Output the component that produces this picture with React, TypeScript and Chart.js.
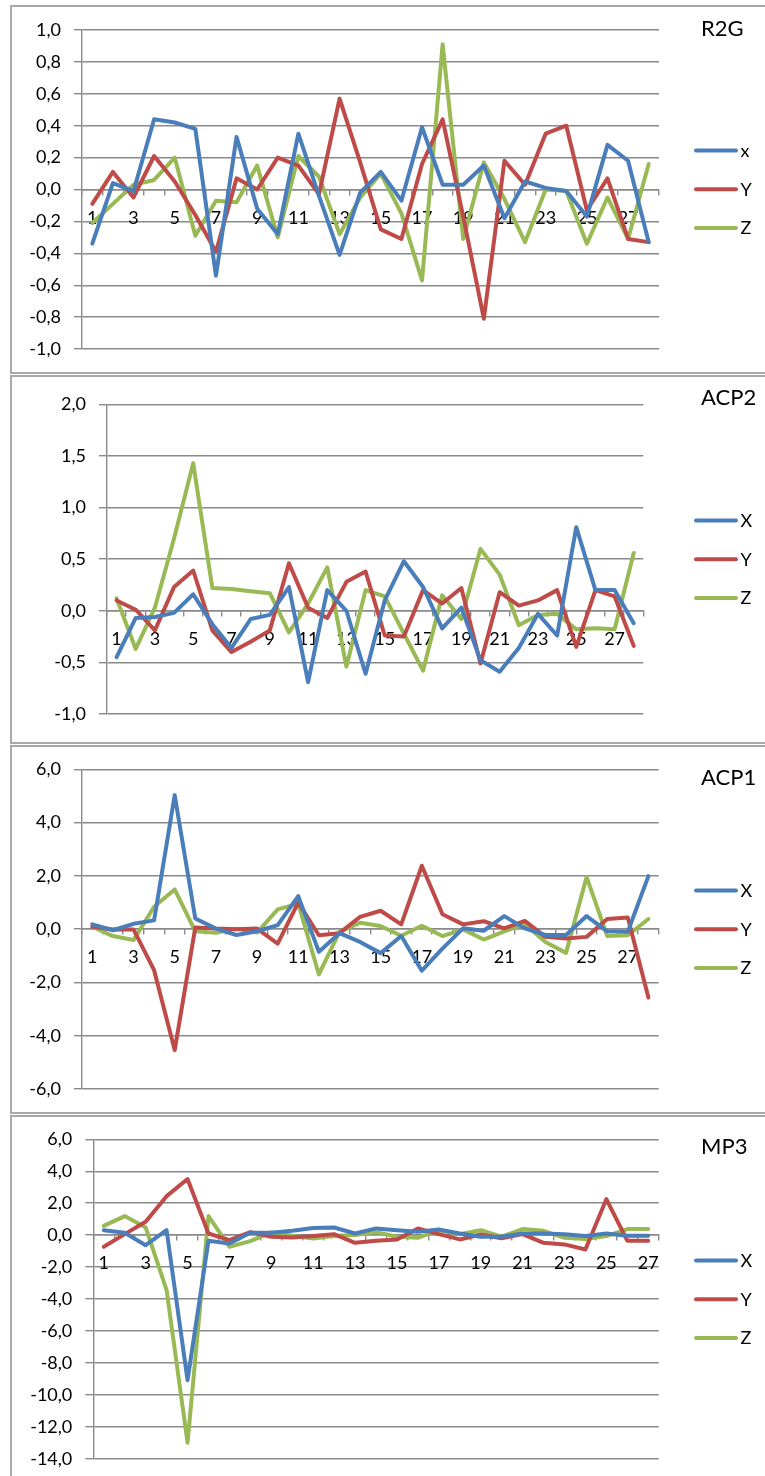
import { useEffect, useRef } from "react";
import { Chart, registerables } from "chart.js";

Chart.register(...registerables);

// ---- categories ----
const categories28 = ["1", "2", "3", "4", "5", "6", "7", "8", "9", "10", "11", "12", "13", "14", "15", "16", "17", "18", "19", "20", "21", "22", "23", "24", "25", "26", "27", "28"];
const categories27 = ["1", "2", "3", "4", "5", "6", "7", "8", "9", "10", "11", "12", "13", "14", "15", "16", "17", "18", "19", "20", "21", "22", "23", "24", "25", "26", "27"];

// ---- R2G ----
const r2gX = [-0.34, 0.04, -0.01, 0.44, 0.42, 0.38, -0.54, 0.33, -0.12, -0.28, 0.35, -0.04, -0.41, -0.02, 0.11, -0.07, 0.39, 0.03, 0.03, 0.15, -0.18, 0.05, 0.01, -0.01, -0.17, 0.28, 0.18, -0.33];
const r2gY = [-0.09, 0.11, -0.05, 0.21, 0.05, -0.16, -0.39, 0.07, 0.0, 0.2, 0.15, -0.03, 0.57, 0.17, -0.25, -0.31, 0.16, 0.44, -0.17, -0.81, 0.18, 0.03, 0.35, 0.4, -0.13, 0.07, -0.31, -0.33];
const r2gZ = [-0.21, -0.09, 0.03, 0.06, 0.2, -0.29, -0.07, -0.08, 0.15, -0.3, 0.21, 0.08, -0.28, -0.05, 0.1, -0.15, -0.57, 0.91, -0.31, 0.17, -0.06, -0.33, 0.0, -0.01, -0.34, -0.05, -0.31, 0.16];

// ---- ACP2 ----
const acp2X = [-0.45, -0.07, -0.06, -0.02, 0.16, -0.13, -0.36, -0.08, -0.04, 0.23, -0.69, 0.2, 0.0, -0.61, 0.1, 0.48, 0.23, -0.17, 0.03, -0.48, -0.59, -0.36, -0.03, -0.24, 0.81, 0.2, 0.2, -0.12];
const acp2Y = [0.1, 0.01, -0.19, 0.23, 0.39, -0.19, -0.4, -0.3, -0.19, 0.46, 0.03, -0.07, 0.28, 0.38, -0.24, -0.25, 0.2, 0.07, 0.22, -0.51, 0.18, 0.05, 0.1, 0.2, -0.35, 0.2, 0.14, -0.34];
const acp2Z = [0.12, -0.37, 0.03, 0.7, 1.43, 0.22, 0.21, 0.19, 0.17, -0.21, 0.07, 0.42, -0.54, 0.2, 0.14, -0.22, -0.58, 0.15, -0.08, 0.6, 0.35, -0.14, -0.04, -0.03, -0.18, -0.17, -0.18, 0.56];

// ---- ACP1 ----
const acp1X = [0.18, -0.04, 0.2, 0.33, 5.03, 0.4, 0.02, -0.22, -0.08, 0.15, 1.24, -0.85, -0.15, -0.48, -0.9, -0.26, -1.56, -0.73, 0.03, -0.06, 0.49, 0.03, -0.22, -0.22, 0.49, -0.08, -0.1, 1.99];
const acp1Y = [0.09, -0.01, -0.01, -1.54, -4.54, 0.06, 0.02, 0.0, 0.02, -0.54, 1.0, -0.23, -0.15, 0.46, 0.69, 0.18, 2.38, 0.56, 0.18, 0.3, 0.03, 0.31, -0.29, -0.35, -0.29, 0.38, 0.44, -2.57];
const acp1Z = [0.09, -0.26, -0.41, 0.84, 1.49, -0.08, -0.14, 0.02, -0.13, 0.74, 0.96, -1.7, -0.1, 0.24, 0.12, -0.25, 0.13, -0.26, -0.01, -0.39, -0.08, 0.19, -0.48, -0.89, 1.96, -0.26, -0.23, 0.38];

// ---- MP3 ----
const mp3X = [0.31, 0.15, -0.63, 0.31, -9.08, -0.35, -0.52, 0.15, 0.15, 0.27, 0.44, 0.48, 0.1, 0.42, 0.31, 0.21, 0.35, 0.1, -0.1, -0.1, 0.1, 0.1, 0.06, -0.06, 0.1, -0.04, -0.04];
const mp3Y = [-0.73, 0.06, 0.84, 2.44, 3.51, 0.1, -0.31, 0.19, -0.1, -0.15, -0.06, 0.06, -0.48, -0.35, -0.27, 0.42, 0.06, -0.27, 0.04, -0.2, 0.06, -0.48, -0.58, -0.9, 2.25, -0.35, -0.35];
const mp3Z = [0.58, 1.19, 0.48, -3.44, -13.0, 1.19, -0.73, -0.38, 0.17, -0.04, -0.21, -0.06, 0.0, 0.19, -0.1, -0.17, 0.31, 0.06, 0.31, -0.1, 0.38, 0.27, -0.17, -0.25, -0.06, 0.38, 0.38];

// ---- styling ----
const BLUE = "#4A7EBB";
const RED = "#BE4B48";
const GREEN = "#98B954";
const GRID = "#8a8a8a";
const FRAME = "#a9a9a9";
const FONT = "Lato, 'Noto Sans', sans-serif";
const TICK_SIZE = 18;
const PAGE_W = 765;
const PAGE_H = 1476;
const PANEL_H = 369;
const Y_AXIS_W = 70;
const LINE_W = 4;

type Series = { name: string; data: number[]; color: string };
type Panel = {
  title: string;
  top: number;
  titleY: number;
  area: { left: number; right: number; top: number; bottom: number };
  yMin: number;
  yMax: number;
  yStep: number;
  labels: string[];
  series: Series[];
};

const panels: Panel[] = [
  {
    title: "R2G",
    top: 5,
    titleY: 28.8,
    area: { left: 82, right: 659, top: 30, bottom: 349 },
    yMin: -1,
    yMax: 1,
    yStep: 0.2,
    labels: categories28,
    series: [
      { name: "x", data: r2gX, color: BLUE },
      { name: "Y", data: r2gY, color: RED },
      { name: "Z", data: r2gZ, color: GREEN },
    ],
  },
  {
    title: "ACP2",
    top: 375,
    titleY: 398.3,
    area: { left: 107, right: 643.3, top: 404.3, bottom: 714 },
    yMin: -1,
    yMax: 2,
    yStep: 0.5,
    labels: categories28,
    series: [
      { name: "X", data: acp2X, color: BLUE },
      { name: "Y", data: acp2Y, color: RED },
      { name: "Z", data: acp2Z, color: GREEN },
    ],
  },
  {
    title: "ACP1",
    top: 745,
    titleY: 777.5,
    area: { left: 82, right: 658.7, top: 769.3, bottom: 1089 },
    yMin: -6,
    yMax: 6,
    yStep: 2,
    labels: categories28,
    series: [
      { name: "X", data: acp1X, color: BLUE },
      { name: "Y", data: acp1Y, color: RED },
      { name: "Z", data: acp1Z, color: GREEN },
    ],
  },
  {
    title: "MP3",
    top: 1115,
    titleY: 1146.8,
    area: { left: 93.3, right: 658.7, top: 1139.3, bottom: 1458.7 },
    yMin: -14,
    yMax: 6,
    yStep: 2,
    labels: categories27,
    series: [
      { name: "X", data: mp3X, color: BLUE },
      { name: "Y", data: mp3Y, color: RED },
      { name: "Z", data: mp3Z, color: GREEN },
    ],
  },
];

// Title at the top right and a line-sample legend under it.
const panelText = {
  id: "panelText",
  afterDraw(chart: any, _args: any, opts: any) {
    const ctx = chart.ctx as CanvasRenderingContext2D;
    ctx.save();
    ctx.fillStyle = "#000";
    ctx.textAlign = "left";
    ctx.textBaseline = "middle";
    ctx.font = `22px ${FONT}`;
    ctx.fillText(opts.title, 701, opts.titleY);
    chart.data.datasets.forEach((ds: any, i: number) => {
      const y = 145.5 + i * 38.8;
      ctx.strokeStyle = ds.borderColor;
      ctx.lineWidth = LINE_W;
      ctx.lineCap = "round";
      ctx.beginPath();
      ctx.moveTo(696, y);
      ctx.lineTo(736, y);
      ctx.stroke();
      ctx.font = `${TICK_SIZE}px ${FONT}`;
      ctx.fillText(ds.label, 740.5, y + 0.5);
    });
    ctx.restore();
  },
};

function PanelChart({ panel }: { panel: Panel }) {
  const ref = useRef<HTMLCanvasElement>(null);

  useEffect(() => {
    const canvas = ref.current;
    if (!canvas) return;
    const a = panel.area;
    const T = panel.top;
    const chart = new Chart(canvas, {
      type: "line",
      data: {
        labels: panel.labels,
        datasets: panel.series.map((s) => ({
          label: s.name,
          data: s.data,
          borderColor: s.color,
          backgroundColor: s.color,
          borderWidth: LINE_W,
          pointRadius: 0,
          pointHoverRadius: 0,
          tension: 0,
          fill: false,
          borderJoinStyle: "round" as const,
          borderCapStyle: "round" as const,
        })),
      },
      options: {
        responsive: false,
        animation: false,
        devicePixelRatio: 1,
        events: [],
        layout: {
          padding: {
            left: a.left - Y_AXIS_W,
            right: PAGE_W - a.right,
            top: a.top - T,
            bottom: T + PANEL_H - a.bottom,
          },
        },
        plugins: {
          legend: { display: false },
          title: { display: false },
          tooltip: { enabled: false },
          panelText: { title: panel.title, titleY: panel.titleY - T },
        } as any,
        scales: {
          x: {
            type: "category",
            offset: true,
            position: { y: 0 } as any,
            afterFit: (s: any) => {
              s.height = 0;
            },
            grid: {
              offset: true,
              drawOnChartArea: false,
              drawTicks: true,
              tickLength: 5,
              color: GRID,
              lineWidth: 1.4,
            },
            border: { display: true, color: GRID, width: 1.4 },
            ticks: {
              autoSkip: false,
              maxRotation: 0,
              minRotation: 0,
              padding: 12.5,
              color: "#000",
              font: { family: FONT, size: TICK_SIZE },
              callback: function (this: any, v: any, i: number) {
                return i % 2 === 0 ? this.getLabelForValue(v) : "";
              },
            },
          },
          y: {
            type: "linear",
            position: "left",
            min: panel.yMin,
            max: panel.yMax,
            afterFit: (s: any) => {
              s.width = Y_AXIS_W;
            },
            grid: {
              color: GRID,
              lineWidth: 1.4,
              drawTicks: true,
              tickLength: 8,
            },
            border: { display: true, color: GRID, width: 1.4 },
            ticks: {
              stepSize: panel.yStep,
              padding: 13,
              color: "#000",
              font: { family: FONT, size: TICK_SIZE },
              callback: (v: any) => Number(v).toFixed(1).replace(".", ","),
            },
          },
        },
      },
      plugins: [panelText],
    });
    return () => chart.destroy();
  }, [panel]);

  return (
    <>
      <div
        style={{
          position: "absolute",
          left: 10,
          top: panel.top,
          width: 800,
          height: PANEL_H,
          border: `2px solid ${FRAME}`,
          boxSizing: "border-box",
          background: "#fff",
        }}
      />
      <canvas
        ref={ref}
        width={PAGE_W}
        height={PANEL_H}
        style={{
          position: "absolute",
          left: 0,
          top: panel.top,
          width: PAGE_W,
          height: PANEL_H,
        }}
      />
    </>
  );
}

export default function App() {
  return (
    <div
      style={{
        position: "fixed",
        left: 0,
        top: 0,
        width: PAGE_W,
        height: PAGE_H,
        overflow: "hidden",
        background: "#fff",
      }}
    >
      {panels.map((p) => (
        <PanelChart key={p.title} panel={p} />
      ))}
    </div>
  );
}
